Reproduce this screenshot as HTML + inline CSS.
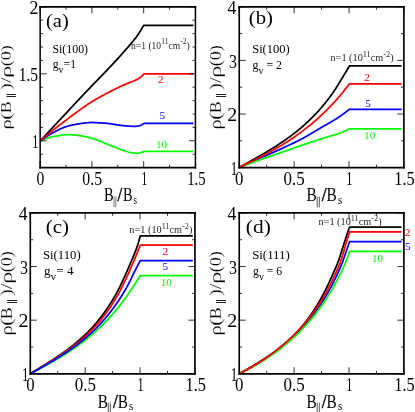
<!DOCTYPE html>
<html><head><meta charset="utf-8"><title>chart</title>
<style>html,body{margin:0;padding:0;background:#fff;}body{width:415px;height:412px;overflow:hidden;font-family:"Liberation Serif",serif;}</style>
</head><body>
<svg width="415" height="412" viewBox="0 0 415 412" font-family='"Liberation Serif", serif' style="display:block;will-change:transform">
<rect width="415" height="412" fill="#ffffff"/>
<g fill="none" stroke-width="1.75" stroke-linejoin="round">
<polyline stroke="#00ff00" points="40.50,140.67 41.55,140.26 42.59,139.86 43.64,139.47 44.68,139.09 45.73,138.73 46.77,138.38 47.82,138.05 48.86,137.73 49.91,137.44 50.96,137.16 52.00,136.91 53.05,136.68 54.09,136.47 55.14,136.29 56.18,136.11 57.23,135.93 58.27,135.75 59.32,135.58 60.36,135.41 61.41,135.26 62.46,135.12 63.50,134.99 64.55,134.88 65.59,134.78 66.64,134.71 67.68,134.66 68.73,134.64 69.77,134.64 70.82,134.68 71.87,134.73 72.91,134.81 73.96,134.91 75.00,135.03 76.05,135.16 77.09,135.30 78.14,135.45 79.18,135.60 80.23,135.76 81.27,135.92 82.32,136.08 83.37,136.26 84.41,136.46 85.46,136.68 86.50,136.92 87.55,137.17 88.59,137.44 89.64,137.72 90.68,138.02 91.73,138.32 92.78,138.63 93.82,138.94 94.87,139.26 95.91,139.59 96.96,139.95 98.00,140.33 99.05,140.73 100.09,141.15 101.14,141.58 102.18,142.01 103.23,142.46 104.28,142.91 105.32,143.36 106.37,143.81 107.41,144.25 108.46,144.68 109.50,145.09 110.55,145.50 111.59,145.92 112.64,146.34 113.69,146.76 114.73,147.18 115.78,147.60 116.82,148.02 117.87,148.43 118.91,148.83 119.96,149.23 121.00,149.61 122.05,149.98 123.09,150.34 124.14,150.67 125.19,151.01 126.23,151.36 127.28,151.69 128.32,152.01 129.37,152.29 130.41,152.53 131.46,152.70 132.50,152.85 133.55,153.00 134.60,153.12 135.64,153.21 136.69,153.26 137.73,153.25 138.78,153.11 139.82,152.88 140.87,152.60 141.91,152.30 142.96,151.93 144.00,151.49 193.45,151.49"/>
<polyline stroke="#0000ff" points="40.50,140.67 41.55,139.92 42.59,139.19 43.64,138.47 44.68,137.76 45.73,137.07 46.77,136.39 47.82,135.74 48.86,135.11 49.91,134.49 50.96,133.90 52.00,133.32 53.05,132.74 54.09,132.16 55.14,131.59 56.18,131.02 57.23,130.47 58.27,129.93 59.32,129.41 60.36,128.91 61.41,128.44 62.46,127.99 63.50,127.57 64.55,127.19 65.59,126.84 66.64,126.53 67.68,126.24 68.73,125.96 69.77,125.68 70.82,125.43 71.87,125.18 72.91,124.94 73.96,124.72 75.00,124.50 76.05,124.30 77.09,124.11 78.14,123.94 79.18,123.77 80.23,123.62 81.27,123.48 82.32,123.35 83.37,123.23 84.41,123.10 85.46,122.97 86.50,122.85 87.55,122.75 88.59,122.65 89.64,122.58 90.68,122.52 91.73,122.49 92.78,122.49 93.82,122.51 94.87,122.56 95.91,122.62 96.96,122.69 98.00,122.76 99.05,122.83 100.09,122.89 101.14,122.95 102.18,123.01 103.23,123.06 104.28,123.12 105.32,123.19 106.37,123.27 107.41,123.36 108.46,123.48 109.50,123.62 110.55,123.77 111.59,123.93 112.64,124.10 113.69,124.28 114.73,124.44 115.78,124.61 116.82,124.76 117.87,124.91 118.91,125.07 119.96,125.23 121.00,125.39 122.05,125.53 123.09,125.65 124.14,125.75 125.19,125.84 126.23,125.93 127.28,126.01 128.32,126.09 129.37,126.16 130.41,126.22 131.46,126.27 132.50,126.31 133.55,126.33 134.60,126.33 135.64,126.29 136.69,126.18 137.73,126.04 138.78,125.88 139.82,125.61 140.87,125.20 141.91,124.67 142.96,124.05 144.00,123.36 193.45,123.36"/>
<polyline stroke="#000000" points="40.50,140.67 41.54,139.54 42.58,138.42 43.63,137.30 44.67,136.18 45.71,135.05 46.75,133.93 47.80,132.81 48.84,131.69 49.88,130.57 50.92,129.45 51.96,128.33 53.01,127.21 54.05,126.09 55.09,124.97 56.13,123.85 57.18,122.73 58.22,121.61 59.26,120.49 60.30,119.37 61.35,118.26 62.39,117.14 63.43,116.02 64.47,114.90 65.51,113.79 66.56,112.67 67.60,111.55 68.64,110.44 69.68,109.32 70.73,108.21 71.77,107.09 72.81,105.98 73.85,104.86 74.89,103.75 75.94,102.63 76.98,101.52 78.02,100.41 79.06,99.29 80.11,98.18 81.15,97.07 82.19,95.96 83.23,94.85 84.28,93.75 85.32,92.65 86.36,91.55 87.40,90.46 88.44,89.37 89.49,88.29 90.53,87.21 91.57,86.13 92.61,85.05 93.66,83.97 94.70,82.89 95.74,81.82 96.78,80.75 97.82,79.67 98.87,78.60 99.91,77.52 100.95,76.45 101.99,75.37 103.04,74.29 104.08,73.21 105.12,72.13 106.16,71.04 107.21,69.95 108.25,68.86 109.29,67.76 110.33,66.67 111.37,65.56 112.42,64.45 113.46,63.34 114.50,62.22 115.54,61.09 116.59,59.96 117.63,58.83 118.67,57.68 119.71,56.53 120.75,55.37 121.80,54.20 122.84,53.03 123.88,51.85 124.92,50.65 125.97,49.45 127.01,48.25 128.05,47.06 129.09,45.86 130.14,44.66 131.18,43.44 132.22,42.20 133.26,40.93 134.30,39.63 135.35,38.30 136.39,36.92 137.43,35.50 138.47,34.02 139.52,32.38 140.56,30.65 141.60,28.91 142.64,27.14 143.68,25.34 193.45,25.34"/>
<polyline stroke="#ff0000" points="40.50,140.67 41.55,139.76 42.59,138.86 43.64,137.96 44.68,137.07 45.73,136.19 46.77,135.31 47.82,134.44 48.86,133.57 49.91,132.71 50.96,131.86 52.00,131.02 53.05,130.18 54.09,129.34 55.14,128.51 56.18,127.69 57.23,126.87 58.27,126.05 59.32,125.24 60.36,124.43 61.41,123.63 62.46,122.83 63.50,122.04 64.55,121.25 65.59,120.46 66.64,119.68 67.68,118.90 68.73,118.12 69.77,117.34 70.82,116.56 71.87,115.78 72.91,114.99 73.96,114.22 75.00,113.44 76.05,112.67 77.09,111.90 78.14,111.13 79.18,110.37 80.23,109.62 81.27,108.87 82.32,108.12 83.37,107.39 84.41,106.66 85.46,105.94 86.50,105.23 87.55,104.53 88.59,103.84 89.64,103.17 90.68,102.50 91.73,101.84 92.78,101.20 93.82,100.57 94.87,99.94 95.91,99.33 96.96,98.72 98.00,98.11 99.05,97.52 100.09,96.93 101.14,96.35 102.18,95.78 103.23,95.21 104.28,94.65 105.32,94.09 106.37,93.54 107.41,92.99 108.46,92.45 109.50,91.91 110.55,91.38 111.59,90.85 112.64,90.32 113.69,89.80 114.73,89.28 115.78,88.76 116.82,88.25 117.87,87.75 118.91,87.25 119.96,86.76 121.00,86.27 122.05,85.79 123.09,85.32 124.14,84.85 125.19,84.39 126.23,83.94 127.28,83.49 128.32,83.08 129.37,82.67 130.41,82.28 131.46,81.88 132.50,81.48 133.55,81.06 134.60,80.61 135.64,80.13 136.69,79.63 137.73,79.10 138.78,78.50 139.82,77.81 140.87,76.99 141.91,76.04 142.96,74.98 144.00,73.83 193.45,73.83"/>
</g>
<path d="M40.15 167.6v-6.5M40.15 6.8v6.5M91.92 167.6v-6.5M91.92 6.8v6.5M143.68 167.6v-6.5M143.68 6.8v6.5M195.45 167.6v-6.5M195.45 6.8v6.5M66.03 167.6v-2.9M66.03 6.8v2.9M117.80 167.6v-2.9M117.80 6.8v2.9M169.57 167.6v-2.9M169.57 6.8v2.9M40.15 140.80h6.5M195.45 140.80h-6.5M40.15 73.80h6.5M195.45 73.80h-6.5M40.15 6.80h6.5M195.45 6.80h-6.5M40.15 154.20h2.9M195.45 154.20h-2.9M40.15 127.40h2.9M195.45 127.40h-2.9M40.15 114.00h2.9M195.45 114.00h-2.9M40.15 100.60h2.9M195.45 100.60h-2.9M40.15 87.20h2.9M195.45 87.20h-2.9M40.15 60.40h2.9M195.45 60.40h-2.9M40.15 47.00h2.9M195.45 47.00h-2.9M40.15 33.60h2.9M195.45 33.60h-2.9M40.15 20.20h2.9M195.45 20.20h-2.9" stroke="#000" stroke-width="0.8" fill="none"/>
<path d="M39.40 6.8H196.20M39.40 167.6H196.20" stroke="#000" stroke-width="1.8" fill="none"/>
<path d="M40.15 5.90V168.50M195.45 5.90V168.50" stroke="#000" stroke-width="1.5" fill="none"/>
<text transform="matrix(0.1567 0 0 0.1924 36.58 185.15)" font-size="100" fill="#000000">0</text>
<text transform="matrix(0.1582 0 0 0.1923 82.28 185.15)" font-size="100" fill="#000000">0.5</text>
<text transform="matrix(0.1136 0 0 0.1938 141.48 185.15)" font-size="100" fill="#000000">1</text>
<text transform="matrix(0.1482 0 0 0.1938 187.13 185.14)" font-size="100" fill="#000000">1.5</text>
<text transform="matrix(0.1227 0 0 0.1954 32.25 147.97)" font-size="100" fill="#000000">1</text>
<text transform="matrix(0.1550 0 0 0.1953 18.72 81.13)" font-size="100" fill="#000000">1.5</text>
<text transform="matrix(0.1783 0 0 0.1946 29.41 14.30)" font-size="100" fill="#000000">2</text>
<text transform="matrix(0.1441 0 0 0.1910 104.09 201.45)" font-size="100" fill="#000000">B</text>
<text transform="matrix(0.1694 0 0 0.1910 117.50 201.45)" font-size="100" fill="#000000" stroke="#000000" stroke-width="2.5">/</text>
<text transform="matrix(0.1441 0 0 0.1910 122.89 201.45)" font-size="100" fill="#000000">B</text>
<text transform="matrix(0.0900 0 0 0.1203 133.43 204.20)" font-size="100" fill="#000000">s</text>
<path d="M114.00 196.55V207.35M115.80 196.55V207.35" stroke="#999999" stroke-width="1.3" fill="none"/>
<text transform="matrix(0 -0.2057 0.1509 0 11.20 129.44)" font-size="100" fill="#000000" stroke="#fff" stroke-width="1.2">ρ</text>
<text transform="matrix(0 -0.2291 0.1509 0 11.20 120.00)" font-size="100" fill="#000000" stroke="#fff" stroke-width="1.2">(</text>
<text transform="matrix(0 -0.1780 0.1509 0 11.20 113.21)" font-size="100" fill="#000000" stroke="#fff" stroke-width="1.2">B</text>
<text transform="matrix(0 -0.2061 0.1509 0 11.20 89.97)" font-size="100" fill="#000000" stroke="#fff" stroke-width="1.2">)/</text>
<text transform="matrix(0 -0.2514 0.1509 0 11.20 78.03)" font-size="100" fill="#000000" stroke="#fff" stroke-width="1.2">ρ</text>
<text transform="matrix(0 -0.1817 0.1509 0 11.20 66.29)" font-size="100" fill="#000000" stroke="#fff" stroke-width="1.2">(0)</text>
<path d="M6.52 94.50H15.88M6.52 96.50H15.88" stroke="#1c1c1c" stroke-width="1.0" fill="none"/>
<g fill="none" stroke-width="1.75" stroke-linejoin="round">
<polyline stroke="#000000" points="239.30,167.40 240.88,166.53 242.45,165.65 244.03,164.78 245.60,163.90 247.18,163.02 248.76,162.15 250.33,161.26 251.91,160.38 253.48,159.49 255.06,158.60 256.64,157.71 258.21,156.81 259.79,155.90 261.37,154.99 262.94,154.07 264.52,153.15 266.09,152.22 267.67,151.27 269.25,150.32 270.82,149.36 272.40,148.39 273.97,147.41 275.55,146.41 277.13,145.41 278.70,144.38 280.28,143.35 281.85,142.29 283.43,141.22 285.01,140.14 286.58,139.03 288.16,137.90 289.74,136.76 291.31,135.59 292.89,134.40 294.46,133.18 296.04,131.94 297.62,130.68 299.19,129.39 300.77,128.07 302.34,126.72 303.92,125.33 305.50,123.92 307.07,122.47 308.65,120.99 310.22,119.48 311.80,117.92 313.38,116.33 314.95,114.70 316.53,113.02 318.11,111.31 319.68,109.54 321.26,107.74 322.83,105.88 324.41,103.98 325.99,102.03 327.56,100.02 329.14,97.96 330.71,95.87 332.29,93.68 332.73,93.04 333.17,92.40 333.61,91.75 334.05,91.09 334.49,90.42 334.92,89.74 335.36,89.07 335.80,88.38 336.24,87.69 336.68,87.00 337.12,86.30 337.56,85.60 338.00,84.89 338.44,84.19 338.88,83.48 339.31,82.77 339.75,82.05 340.19,81.34 340.63,80.63 341.07,79.91 341.51,79.20 341.95,78.49 342.39,77.77 342.83,77.05 343.27,76.33 343.70,75.61 344.14,74.88 344.58,74.15 345.02,73.42 345.46,72.69 345.90,71.95 346.34,71.21 346.78,70.47 347.22,69.73 347.66,68.98 348.09,68.23 348.53,67.48 348.97,66.73 349.41,65.97 401.54,65.97"/>
<polyline stroke="#0000ff" points="239.30,167.40 240.41,166.91 241.52,166.42 242.64,165.92 243.75,165.43 244.86,164.94 245.97,164.45 247.09,163.96 248.20,163.46 249.31,162.97 250.42,162.48 251.53,161.99 252.65,161.49 253.76,161.00 254.87,160.51 255.98,160.02 257.10,159.52 258.21,159.03 259.32,158.54 260.43,158.04 261.54,157.55 262.66,157.06 263.77,156.57 264.88,156.08 265.99,155.59 267.11,155.10 268.22,154.61 269.33,154.12 270.44,153.63 271.55,153.14 272.67,152.65 273.78,152.15 274.89,151.65 276.00,151.15 277.12,150.64 278.23,150.13 279.34,149.62 280.45,149.11 281.56,148.60 282.68,148.09 283.79,147.58 284.90,147.07 286.01,146.56 287.13,146.04 288.24,145.52 289.35,145.00 290.46,144.48 291.57,143.95 292.69,143.41 293.80,142.88 294.91,142.34 296.02,141.79 297.14,141.24 298.25,140.68 299.36,140.11 300.47,139.54 301.59,138.96 302.70,138.37 303.81,137.77 304.92,137.16 306.03,136.53 307.15,135.90 308.26,135.26 309.37,134.61 310.48,133.95 311.60,133.29 312.71,132.63 313.82,131.96 314.93,131.29 316.04,130.63 317.16,129.96 318.27,129.29 319.38,128.63 320.49,127.97 321.61,127.31 322.72,126.67 323.83,126.03 324.94,125.40 326.05,124.77 327.17,124.14 328.28,123.52 329.39,122.89 330.50,122.25 331.62,121.61 332.73,120.95 333.84,120.29 334.95,119.60 336.06,118.90 337.18,118.18 338.29,117.44 339.40,116.69 340.51,115.92 341.63,115.14 342.74,114.34 343.85,113.53 344.96,112.70 346.07,111.87 347.19,111.02 348.30,110.15 349.41,109.28 401.54,109.28"/>
<polyline stroke="#00ff00" points="239.30,167.40 240.41,166.98 241.52,166.56 242.64,166.15 243.75,165.74 244.86,165.32 245.97,164.91 247.09,164.50 248.20,164.09 249.31,163.68 250.42,163.28 251.53,162.87 252.65,162.47 253.76,162.06 254.87,161.66 255.98,161.26 257.10,160.86 258.21,160.46 259.32,160.07 260.43,159.67 261.54,159.27 262.66,158.88 263.77,158.49 264.88,158.10 265.99,157.71 267.11,157.33 268.22,156.95 269.33,156.57 270.44,156.18 271.55,155.80 272.67,155.42 273.78,155.04 274.89,154.66 276.00,154.27 277.12,153.89 278.23,153.50 279.34,153.11 280.45,152.72 281.56,152.32 282.68,151.93 283.79,151.54 284.90,151.14 286.01,150.75 287.13,150.35 288.24,149.96 289.35,149.56 290.46,149.17 291.57,148.78 292.69,148.38 293.80,147.99 294.91,147.60 296.02,147.21 297.14,146.83 298.25,146.44 299.36,146.06 300.47,145.68 301.59,145.30 302.70,144.92 303.81,144.55 304.92,144.17 306.03,143.80 307.15,143.43 308.26,143.06 309.37,142.69 310.48,142.32 311.60,141.95 312.71,141.58 313.82,141.22 314.93,140.86 316.04,140.49 317.16,140.13 318.27,139.77 319.38,139.42 320.49,139.06 321.61,138.71 322.72,138.36 323.83,138.01 324.94,137.66 326.05,137.32 327.17,136.99 328.28,136.67 329.39,136.36 330.50,136.05 331.62,135.74 332.73,135.42 333.84,135.10 334.95,134.78 336.06,134.44 337.18,134.08 338.29,133.71 339.40,133.32 340.51,132.90 341.63,132.46 342.74,131.99 343.85,131.50 344.96,131.00 346.07,130.48 347.19,129.94 348.30,129.39 349.41,128.82 401.54,128.82"/>
<polyline stroke="#ff0000" points="239.30,167.40 240.89,166.63 242.49,165.87 244.08,165.10 245.68,164.32 247.27,163.55 248.87,162.77 250.46,161.99 252.06,161.20 253.65,160.41 255.25,159.61 256.84,158.80 258.44,157.99 260.03,157.18 261.63,156.35 263.22,155.52 264.81,154.68 266.41,153.83 268.00,152.97 269.60,152.10 271.19,151.22 272.79,150.33 274.38,149.42 275.98,148.51 277.57,147.58 279.17,146.64 280.76,145.69 282.36,144.72 283.95,143.74 285.54,142.74 287.14,141.73 288.73,140.70 290.33,139.65 291.92,138.59 293.52,137.51 295.11,136.41 296.71,135.29 298.30,134.16 299.90,133.00 301.49,131.83 303.09,130.63 304.68,129.41 306.28,128.17 307.87,126.91 309.46,125.62 311.06,124.31 312.65,122.98 314.25,121.62 315.84,120.24 317.44,118.83 319.03,117.40 320.63,115.94 322.22,114.45 323.82,112.94 325.41,111.39 327.01,109.82 328.60,108.21 330.19,106.58 331.79,104.92 333.38,103.22 333.79,102.77 334.21,102.32 334.62,101.87 335.03,101.41 335.44,100.95 335.85,100.49 336.26,100.03 336.67,99.56 337.08,99.09 337.49,98.61 337.90,98.13 338.32,97.65 338.73,97.17 339.14,96.68 339.55,96.19 339.96,95.70 340.37,95.21 340.78,94.71 341.19,94.21 341.60,93.72 342.01,93.21 342.42,92.71 342.84,92.21 343.25,91.70 343.66,91.19 344.07,90.68 344.48,90.16 344.89,89.64 345.30,89.12 345.71,88.60 346.12,88.08 346.53,87.55 346.95,87.02 347.36,86.49 347.77,85.95 348.18,85.41 348.59,84.87 349.00,84.33 349.41,83.78 401.54,83.78"/>
</g>
<path d="M239.23 167.6v-6.5M239.23 6.8v6.5M294.11 167.6v-6.5M294.11 6.8v6.5M349.00 167.6v-6.5M349.00 6.8v6.5M403.88 167.6v-6.5M403.88 6.8v6.5M266.67 167.6v-2.9M266.67 6.8v2.9M321.56 167.6v-2.9M321.56 6.8v2.9M376.44 167.6v-2.9M376.44 6.8v2.9M239.23 167.60h6.5M403.88 167.60h-6.5M239.23 114.00h6.5M403.88 114.00h-6.5M239.23 60.40h6.5M403.88 60.40h-6.5M239.23 6.80h6.5M403.88 6.80h-6.5M239.23 140.80h2.9M403.88 140.80h-2.9M239.23 87.20h2.9M403.88 87.20h-2.9M239.23 33.60h2.9M403.88 33.60h-2.9" stroke="#000" stroke-width="0.8" fill="none"/>
<path d="M238.41 6.8H404.70M238.41 167.6H404.70" stroke="#000" stroke-width="1.8" fill="none"/>
<path d="M239.23 5.90V168.50M403.88 5.90V168.50" stroke="#000" stroke-width="1.65" fill="none"/>
<text transform="matrix(0.1681 0 0 0.1924 235.10 185.15)" font-size="100" fill="#000000">0</text>
<text transform="matrix(0.1699 0 0 0.1923 283.49 185.15)" font-size="100" fill="#000000">0.5</text>
<text transform="matrix(0.1241 0 0 0.1938 346.28 185.15)" font-size="100" fill="#000000">1</text>
<text transform="matrix(0.1636 0 0 0.1938 394.26 185.14)" font-size="100" fill="#000000">1.5</text>
<text transform="matrix(0.1311 0 0 0.1954 230.68 174.70)" font-size="100" fill="#000000">1</text>
<text transform="matrix(0.1995 0 0 0.1946 227.25 121.23)" font-size="100" fill="#000000">2</text>
<text transform="matrix(0.1601 0 0 0.1946 228.92 67.76)" font-size="100" fill="#000000">3</text>
<text transform="matrix(0.1758 0 0 0.1957 227.60 14.30)" font-size="100" fill="#000000">4</text>
<text transform="matrix(0.1525 0 0 0.1910 306.46 201.45)" font-size="100" fill="#000000">B</text>
<text transform="matrix(0.1730 0 0 0.1910 321.80 201.45)" font-size="100" fill="#000000" stroke="#000000" stroke-width="2.5">/</text>
<text transform="matrix(0.1525 0 0 0.1910 326.51 201.45)" font-size="100" fill="#000000">B</text>
<text transform="matrix(0.1092 0 0 0.1203 337.90 204.20)" font-size="100" fill="#000000">s</text>
<path d="M317.20 196.55V207.35M319.30 196.55V207.35" stroke="#444444" stroke-width="0.9" fill="none"/>
<text transform="matrix(0 -0.2057 0.1614 0 221.00 129.44)" font-size="100" fill="#000000" stroke="#fff" stroke-width="1.2">ρ</text>
<text transform="matrix(0 -0.2291 0.1614 0 221.00 120.00)" font-size="100" fill="#000000" stroke="#fff" stroke-width="1.2">(</text>
<text transform="matrix(0 -0.1780 0.1614 0 221.00 113.21)" font-size="100" fill="#000000" stroke="#fff" stroke-width="1.2">B</text>
<text transform="matrix(0 -0.2061 0.1614 0 221.00 89.97)" font-size="100" fill="#000000" stroke="#fff" stroke-width="1.2">)/</text>
<text transform="matrix(0 -0.2514 0.1614 0 221.00 78.03)" font-size="100" fill="#000000" stroke="#fff" stroke-width="1.2">ρ</text>
<text transform="matrix(0 -0.1817 0.1614 0 221.00 66.29)" font-size="100" fill="#000000" stroke="#fff" stroke-width="1.2">(0)</text>
<path d="M216.00 94.50H226.00M216.00 96.50H226.00" stroke="#1c1c1c" stroke-width="1.0" fill="none"/>
<g fill="none" stroke-width="1.75" stroke-linejoin="round">
<polyline stroke="#00ff00" points="30.50,373.55 32.10,372.73 33.69,371.91 35.29,371.08 36.88,370.25 38.48,369.41 40.07,368.57 41.67,367.72 43.26,366.87 44.86,366.00 46.45,365.13 48.05,364.26 49.64,363.37 51.24,362.48 52.83,361.57 54.43,360.66 56.02,359.73 57.62,358.80 59.21,357.85 60.81,356.89 62.40,355.91 64.00,354.92 65.59,353.92 67.19,352.90 68.78,351.87 70.38,350.82 71.97,349.75 73.57,348.67 75.16,347.56 76.76,346.44 78.35,345.30 79.95,344.13 81.54,342.95 83.14,341.74 84.73,340.51 86.33,339.25 87.92,337.97 89.52,336.66 91.11,335.32 92.71,333.96 94.31,332.57 95.90,331.15 97.50,329.70 99.09,328.21 100.69,326.70 102.28,325.15 103.88,323.56 105.47,321.94 107.07,320.29 108.66,318.59 110.26,316.86 111.85,315.09 113.45,313.28 115.04,311.42 116.64,309.52 118.23,307.58 119.83,305.59 121.42,303.56 123.02,301.49 124.61,299.35 125.01,298.79 125.42,298.23 125.82,297.66 126.22,297.09 126.62,296.51 127.02,295.93 127.42,295.35 127.82,294.76 128.22,294.17 128.63,293.57 129.03,292.97 129.43,292.37 129.83,291.77 130.23,291.17 130.63,290.56 131.03,289.95 131.43,289.34 131.84,288.73 132.24,288.12 132.64,287.50 133.04,286.89 133.44,286.28 133.84,285.66 134.24,285.05 134.64,284.44 135.05,283.82 135.45,283.20 135.85,282.58 136.25,281.95 136.65,281.33 137.05,280.70 137.45,280.07 137.85,279.44 138.26,278.80 138.66,278.17 139.06,277.53 139.46,276.89 139.86,276.25 140.26,275.61 192.79,275.61"/>
<polyline stroke="#000000" points="30.50,373.55 31.97,372.67 33.43,371.79 34.90,370.91 36.36,370.02 37.83,369.13 39.29,368.24 40.76,367.34 42.22,366.44 43.69,365.53 45.15,364.62 46.62,363.71 48.08,362.78 49.55,361.85 51.01,360.92 52.48,359.97 53.94,359.02 55.41,358.05 56.88,357.08 58.34,356.09 59.81,355.10 61.27,354.09 62.74,353.06 64.20,352.02 65.67,350.96 67.13,349.89 68.60,348.80 70.06,347.69 71.53,346.55 72.99,345.40 74.46,344.22 75.92,343.02 77.39,341.79 78.85,340.53 80.32,339.25 81.79,337.93 83.25,336.58 84.72,335.20 86.18,333.78 87.65,332.33 89.11,330.84 90.58,329.30 92.04,327.73 93.51,326.11 94.97,324.44 96.44,322.73 97.90,320.96 99.37,319.14 100.83,317.27 102.30,315.35 103.76,313.36 105.23,311.31 106.70,309.20 108.16,307.03 109.63,304.78 111.09,302.47 112.56,300.08 114.02,297.62 115.49,295.11 116.95,292.46 117.55,291.31 118.15,290.15 118.75,288.97 119.34,287.78 119.94,286.57 120.54,285.34 121.14,284.10 121.73,282.85 122.33,281.58 122.93,280.29 123.53,279.00 124.12,277.69 124.72,276.37 125.32,275.04 125.92,273.71 126.52,272.36 127.11,271.00 127.71,269.63 128.31,268.26 128.91,266.87 129.50,265.49 130.10,264.09 130.70,262.71 131.30,261.32 131.89,259.93 132.49,258.53 133.09,257.11 133.69,255.67 134.28,254.20 134.88,252.69 135.48,251.14 136.08,249.54 136.68,247.88 137.27,246.17 137.87,244.38 138.47,242.44 139.07,240.36 139.66,238.19 140.26,235.98 192.79,235.98"/>
<polyline stroke="#ff0000" points="30.50,373.55 32.00,372.66 33.50,371.77 35.01,370.88 36.51,369.99 38.01,369.09 39.51,368.20 41.02,367.30 42.52,366.40 44.02,365.50 45.52,364.60 47.03,363.69 48.53,362.77 50.03,361.85 51.53,360.93 53.04,359.99 54.54,359.05 56.04,358.10 57.54,357.14 59.05,356.17 60.55,355.19 62.05,354.20 63.55,353.19 65.05,352.17 66.56,351.13 68.06,350.07 69.56,349.00 71.06,347.90 72.57,346.79 74.07,345.65 75.57,344.49 77.07,343.31 78.58,342.09 80.08,340.85 81.58,339.58 83.08,338.28 84.59,336.95 86.09,335.58 87.59,334.17 89.09,332.73 90.60,331.24 92.10,329.72 93.60,328.15 95.10,326.53 96.61,324.87 98.11,323.15 99.61,321.39 101.11,319.57 102.61,317.69 104.12,315.76 105.62,313.76 107.12,311.71 108.62,309.58 110.13,307.39 111.63,305.13 113.13,302.80 114.63,300.39 116.14,297.90 117.64,295.37 119.14,292.69 119.68,291.66 120.22,290.63 120.77,289.57 121.31,288.51 121.85,287.43 122.39,286.33 122.93,285.23 123.47,284.11 124.01,282.98 124.56,281.84 125.10,280.69 125.64,279.53 126.18,278.36 126.72,277.18 127.26,275.99 127.81,274.79 128.35,273.59 128.89,272.38 129.43,271.16 129.97,269.94 130.51,268.71 131.06,267.48 131.60,266.25 132.14,265.01 132.68,263.76 133.22,262.50 133.76,261.22 134.30,259.93 134.85,258.63 135.39,257.32 135.93,256.00 136.47,254.67 137.01,253.32 137.55,251.97 138.10,250.61 138.64,249.24 139.18,247.86 139.72,246.48 140.26,245.08 192.79,245.08"/>
<polyline stroke="#0000ff" points="30.50,373.55 32.07,372.68 33.63,371.81 35.20,370.94 36.77,370.07 38.34,369.19 39.90,368.31 41.47,367.42 43.04,366.53 44.61,365.64 46.17,364.74 47.74,363.83 49.31,362.92 50.88,362.00 52.44,361.07 54.01,360.13 55.58,359.18 57.14,358.22 58.71,357.26 60.28,356.28 61.85,355.28 63.41,354.28 64.98,353.25 66.55,352.22 68.12,351.16 69.68,350.09 71.25,349.00 72.82,347.89 74.38,346.76 75.95,345.61 77.52,344.44 79.09,343.24 80.65,342.01 82.22,340.76 83.79,339.48 85.36,338.17 86.92,336.83 88.49,335.45 90.06,334.04 91.63,332.60 93.19,331.12 94.76,329.60 96.33,328.04 97.89,326.44 99.46,324.80 101.03,323.11 102.60,321.38 104.16,319.59 105.73,317.76 107.30,315.87 108.87,313.93 110.43,311.94 112.00,309.89 113.57,307.77 115.13,305.60 116.70,303.36 118.27,301.06 119.84,298.69 121.40,296.26 122.97,293.74 123.41,293.00 123.86,292.26 124.30,291.51 124.74,290.75 125.19,289.99 125.63,289.22 126.07,288.44 126.52,287.65 126.96,286.85 127.40,286.03 127.85,285.21 128.29,284.37 128.73,283.52 129.18,282.64 129.62,281.75 130.06,280.85 130.51,279.94 130.95,279.02 131.39,278.10 131.84,277.17 132.28,276.25 132.72,275.33 133.17,274.42 133.61,273.51 134.05,272.62 134.50,271.74 134.94,270.87 135.38,269.99 135.83,269.13 136.27,268.26 136.71,267.40 137.16,266.54 137.60,265.68 138.04,264.83 138.49,263.98 138.93,263.13 139.37,262.29 139.82,261.45 140.26,260.61 192.79,260.61"/>
</g>
<path d="M30.30 373.78v-6.5M30.30 212.92v6.5M85.18 373.78v-6.5M85.18 212.92v6.5M140.07 373.78v-6.5M140.07 212.92v6.5M194.95 373.78v-6.5M194.95 212.92v6.5M57.74 373.78v-2.9M57.74 212.92v2.9M112.62 373.78v-2.9M112.62 212.92v2.9M167.51 373.78v-2.9M167.51 212.92v2.9M30.3 373.78h6.5M194.95 373.78h-6.5M30.3 320.16h6.5M194.95 320.16h-6.5M30.3 266.54h6.5M194.95 266.54h-6.5M30.3 212.92h6.5M194.95 212.92h-6.5M30.3 346.97h2.9M194.95 346.97h-2.9M30.3 293.35h2.9M194.95 293.35h-2.9M30.3 239.73h2.9M194.95 239.73h-2.9" stroke="#000" stroke-width="0.8" fill="none"/>
<path d="M29.48 212.92H195.77M29.48 373.78H195.77" stroke="#000" stroke-width="1.8" fill="none"/>
<path d="M30.3 212.02V374.68M194.95 212.02V374.68" stroke="#000" stroke-width="1.65" fill="none"/>
<text transform="matrix(0.1681 0 0 0.1924 26.30 391.30)" font-size="100" fill="#000000">0</text>
<text transform="matrix(0.1699 0 0 0.1923 74.70 391.30)" font-size="100" fill="#000000">0.5</text>
<text transform="matrix(0.1241 0 0 0.1938 137.52 391.30)" font-size="100" fill="#000000">1</text>
<text transform="matrix(0.1636 0 0 0.1938 185.51 391.29)" font-size="100" fill="#000000">1.5</text>
<text transform="matrix(0.1311 0 0 0.1954 21.88 380.85)" font-size="100" fill="#000000">1</text>
<text transform="matrix(0.1995 0 0 0.1946 18.45 327.30)" font-size="100" fill="#000000">2</text>
<text transform="matrix(0.1601 0 0 0.1946 20.12 273.75)" font-size="100" fill="#000000">3</text>
<text transform="matrix(0.1758 0 0 0.1957 18.80 220.20)" font-size="100" fill="#000000">4</text>
<text transform="matrix(0.1525 0 0 0.1910 97.66 407.60)" font-size="100" fill="#000000">B</text>
<text transform="matrix(0.1730 0 0 0.1910 113.00 407.60)" font-size="100" fill="#000000" stroke="#000000" stroke-width="2.5">/</text>
<text transform="matrix(0.1525 0 0 0.1910 117.71 407.60)" font-size="100" fill="#000000">B</text>
<text transform="matrix(0.1092 0 0 0.1203 129.10 410.35)" font-size="100" fill="#000000">s</text>
<path d="M108.25 402.70V413.50M110.35 402.70V413.50" stroke="#444444" stroke-width="0.9" fill="none"/>
<text transform="matrix(0 -0.2057 0.1614 0 12.20 335.46)" font-size="100" fill="#000000" stroke="#fff" stroke-width="1.2">ρ</text>
<text transform="matrix(0 -0.2291 0.1614 0 12.20 326.03)" font-size="100" fill="#000000" stroke="#fff" stroke-width="1.2">(</text>
<text transform="matrix(0 -0.1780 0.1614 0 12.20 319.24)" font-size="100" fill="#000000" stroke="#fff" stroke-width="1.2">B</text>
<text transform="matrix(0 -0.2061 0.1614 0 12.20 295.99)" font-size="100" fill="#000000" stroke="#fff" stroke-width="1.2">)/</text>
<text transform="matrix(0 -0.2514 0.1614 0 12.20 284.06)" font-size="100" fill="#000000" stroke="#fff" stroke-width="1.2">ρ</text>
<text transform="matrix(0 -0.1817 0.1614 0 12.20 272.32)" font-size="100" fill="#000000" stroke="#fff" stroke-width="1.2">(0)</text>
<path d="M7.20 300.53H17.20M7.20 302.53H17.20" stroke="#1c1c1c" stroke-width="1.0" fill="none"/>
<g fill="none" stroke-width="1.75" stroke-linejoin="round">
<polyline stroke="#000000" points="239.30,373.55 240.89,372.69 242.49,371.82 244.08,370.94 245.68,370.05 247.27,369.15 248.87,368.24 250.46,367.32 252.06,366.40 253.65,365.46 255.25,364.51 256.84,363.55 258.44,362.57 260.03,361.58 261.63,360.58 263.22,359.56 264.81,358.53 266.41,357.48 268.00,356.41 269.60,355.32 271.19,354.21 272.79,353.07 274.38,351.92 275.98,350.74 277.57,349.53 279.17,348.29 280.76,347.03 282.36,345.73 283.95,344.40 285.54,343.03 287.14,341.62 288.73,340.18 290.33,338.69 291.92,337.16 293.52,335.59 295.11,333.96 296.71,332.29 298.30,330.56 299.90,328.77 301.49,326.93 303.09,325.03 304.68,323.06 306.28,321.02 307.87,318.91 309.46,316.73 311.06,314.48 312.65,312.14 314.25,309.73 315.84,307.22 317.44,304.63 319.03,301.94 320.63,299.16 322.22,296.28 323.82,293.29 325.41,290.19 327.01,286.99 328.60,283.66 330.19,280.22 331.79,276.64 333.38,272.96 333.80,272.00 334.21,271.06 334.63,270.12 335.04,269.18 335.46,268.24 335.87,267.29 336.29,266.32 336.71,265.33 337.12,264.32 337.54,263.27 337.95,262.20 338.37,261.07 338.78,259.91 339.20,258.70 339.61,257.46 340.03,256.18 340.44,254.89 340.86,253.58 341.27,252.26 341.69,250.93 342.10,249.60 342.52,248.29 342.93,246.98 343.35,245.69 343.76,244.39 344.18,243.08 344.59,241.77 345.01,240.46 345.42,239.16 345.84,237.88 346.25,236.62 346.67,235.39 347.08,234.16 347.50,232.95 347.91,231.75 348.33,230.57 348.74,229.39 349.16,228.24 349.58,227.09 401.54,227.09"/>
<polyline stroke="#0000ff" points="239.30,373.55 240.93,372.78 242.56,371.98 244.20,371.17 245.83,370.33 247.46,369.47 249.09,368.59 250.72,367.70 252.35,366.78 253.99,365.84 255.62,364.88 257.25,363.89 258.88,362.89 260.51,361.87 262.14,360.82 263.78,359.76 265.41,358.67 267.04,357.56 268.67,356.43 270.30,355.28 271.93,354.11 273.57,352.91 275.20,351.69 276.83,350.45 278.46,349.18 280.09,347.89 281.72,346.58 283.36,345.24 284.99,343.87 286.62,342.48 288.25,341.06 289.88,339.61 291.52,338.12 293.15,336.61 294.78,335.07 296.41,333.49 298.04,331.87 299.67,330.21 301.31,328.52 302.94,326.78 304.57,325.00 306.20,323.17 307.83,321.29 309.46,319.36 311.10,317.37 312.73,315.32 314.36,313.21 315.99,311.03 317.62,308.78 319.25,306.45 320.89,304.05 322.52,301.55 324.15,298.97 325.78,296.29 327.41,293.51 329.05,290.62 330.68,287.61 332.31,284.48 333.94,281.22 335.57,277.82 335.93,277.06 336.29,276.30 336.65,275.54 337.01,274.78 337.37,274.02 337.73,273.25 338.09,272.48 338.44,271.71 338.80,270.93 339.16,270.14 339.52,269.34 339.88,268.53 340.24,267.72 340.60,266.88 340.96,266.04 341.32,265.18 341.68,264.30 342.04,263.41 342.39,262.50 342.75,261.56 343.11,260.58 343.47,259.55 343.83,258.50 344.19,257.41 344.55,256.32 344.91,255.21 345.27,254.11 345.63,253.03 345.98,251.97 346.34,250.92 346.70,249.88 347.06,248.84 347.42,247.81 347.78,246.77 348.14,245.74 348.50,244.72 348.86,243.69 349.22,242.67 349.58,241.66 401.54,241.66"/>
<polyline stroke="#00ff00" points="239.30,373.55 240.97,372.79 242.64,372.00 244.31,371.20 245.98,370.38 247.64,369.54 249.31,368.67 250.98,367.79 252.65,366.89 254.32,365.96 255.99,365.02 257.66,364.05 259.33,363.07 260.99,362.06 262.66,361.03 264.33,359.98 266.00,358.91 267.67,357.81 269.34,356.69 271.01,355.55 272.68,354.39 274.35,353.20 276.01,351.99 277.68,350.75 279.35,349.49 281.02,348.20 282.69,346.89 284.36,345.55 286.03,344.17 287.70,342.77 289.36,341.34 291.03,339.88 292.70,338.39 294.37,336.86 296.04,335.30 297.71,333.70 299.38,332.06 301.05,330.39 302.71,328.67 304.38,326.92 306.05,325.12 307.72,323.27 309.39,321.37 311.06,319.43 312.73,317.43 314.40,315.38 316.07,313.26 317.73,311.09 319.40,308.86 321.07,306.55 322.74,304.18 324.41,301.73 326.08,299.21 327.75,296.60 329.42,293.91 331.08,291.12 332.75,288.24 334.42,285.26 336.09,282.18 337.76,278.97 338.06,278.37 338.37,277.77 338.67,277.18 338.97,276.58 339.27,275.98 339.58,275.39 339.88,274.78 340.18,274.18 340.49,273.58 340.79,272.97 341.09,272.36 341.40,271.74 341.70,271.12 342.00,270.49 342.30,269.86 342.61,269.22 342.91,268.58 343.21,267.93 343.52,267.27 343.82,266.60 344.12,265.92 344.42,265.23 344.73,264.54 345.03,263.83 345.33,263.11 345.64,262.38 345.94,261.64 346.24,260.87 346.55,260.09 346.85,259.28 347.15,258.46 347.45,257.62 347.76,256.76 348.06,255.89 348.36,255.01 348.67,254.12 348.97,253.22 349.27,252.32 349.58,251.40 401.54,251.40"/>
<polyline stroke="#ff0000" points="239.30,373.55 240.91,372.76 242.53,371.95 244.14,371.13 245.75,370.28 247.37,369.41 248.98,368.53 250.59,367.62 252.21,366.70 253.82,365.75 255.43,364.79 257.05,363.80 258.66,362.80 260.27,361.77 261.88,360.73 263.50,359.66 265.11,358.58 266.72,357.47 268.34,356.34 269.95,355.18 271.56,354.01 273.18,352.81 274.79,351.58 276.40,350.34 278.02,349.06 279.63,347.77 281.24,346.44 282.86,345.09 284.47,343.71 286.08,342.30 287.70,340.86 289.31,339.39 290.92,337.89 292.54,336.35 294.15,334.78 295.76,333.16 297.37,331.51 298.99,329.82 300.60,328.09 302.21,326.31 303.83,324.48 305.44,322.60 307.05,320.67 308.67,318.68 310.28,316.64 311.89,314.53 313.51,312.35 315.12,310.11 316.73,307.79 318.35,305.39 319.96,302.91 321.57,300.34 323.19,297.68 324.80,294.91 326.41,292.03 328.03,289.04 329.64,285.92 331.25,282.67 332.86,279.26 334.48,275.72 334.87,274.87 335.25,274.03 335.64,273.20 336.03,272.37 336.41,271.54 336.80,270.71 337.19,269.87 337.57,269.02 337.96,268.15 338.35,267.27 338.74,266.36 339.12,265.44 339.51,264.48 339.90,263.49 340.28,262.46 340.67,261.39 341.06,260.24 341.45,259.03 341.83,257.77 342.22,256.47 342.61,255.13 342.99,253.77 343.38,252.40 343.77,251.03 344.16,249.67 344.54,248.33 344.93,247.02 345.32,245.74 345.70,244.45 346.09,243.17 346.48,241.90 346.87,240.62 347.25,239.35 347.64,238.08 348.03,236.81 348.41,235.54 348.80,234.27 349.19,233.01 349.58,231.75 401.54,231.75"/>
</g>
<path d="M239.23 373.78v-6.5M239.23 212.92v6.5M294.11 373.78v-6.5M294.11 212.92v6.5M349.00 373.78v-6.5M349.00 212.92v6.5M403.88 373.78v-6.5M403.88 212.92v6.5M266.67 373.78v-2.9M266.67 212.92v2.9M321.56 373.78v-2.9M321.56 212.92v2.9M376.44 373.78v-2.9M376.44 212.92v2.9M239.23 373.78h6.5M403.88 373.78h-6.5M239.23 320.16h6.5M403.88 320.16h-6.5M239.23 266.54h6.5M403.88 266.54h-6.5M239.23 212.92h6.5M403.88 212.92h-6.5M239.23 346.97h2.9M403.88 346.97h-2.9M239.23 293.35h2.9M403.88 293.35h-2.9M239.23 239.73h2.9M403.88 239.73h-2.9" stroke="#000" stroke-width="0.8" fill="none"/>
<path d="M238.41 212.92H404.70M238.41 373.78H404.70" stroke="#000" stroke-width="1.8" fill="none"/>
<path d="M239.23 212.02V374.68M403.88 212.02V374.68" stroke="#000" stroke-width="1.65" fill="none"/>
<text transform="matrix(0.1681 0 0 0.1924 235.10 391.30)" font-size="100" fill="#000000">0</text>
<text transform="matrix(0.1699 0 0 0.1923 283.49 391.30)" font-size="100" fill="#000000">0.5</text>
<text transform="matrix(0.1241 0 0 0.1938 346.28 391.30)" font-size="100" fill="#000000">1</text>
<text transform="matrix(0.1636 0 0 0.1938 394.26 391.29)" font-size="100" fill="#000000">1.5</text>
<text transform="matrix(0.1311 0 0 0.1954 230.68 380.85)" font-size="100" fill="#000000">1</text>
<text transform="matrix(0.1995 0 0 0.1946 227.25 327.30)" font-size="100" fill="#000000">2</text>
<text transform="matrix(0.1601 0 0 0.1946 228.92 273.75)" font-size="100" fill="#000000">3</text>
<text transform="matrix(0.1758 0 0 0.1957 227.60 220.20)" font-size="100" fill="#000000">4</text>
<text transform="matrix(0.1525 0 0 0.1910 306.46 407.60)" font-size="100" fill="#000000">B</text>
<text transform="matrix(0.1730 0 0 0.1910 321.80 407.60)" font-size="100" fill="#000000" stroke="#000000" stroke-width="2.5">/</text>
<text transform="matrix(0.1525 0 0 0.1910 326.51 407.60)" font-size="100" fill="#000000">B</text>
<text transform="matrix(0.1092 0 0 0.1203 337.90 410.35)" font-size="100" fill="#000000">s</text>
<path d="M317.20 402.70V413.50M319.30 402.70V413.50" stroke="#444444" stroke-width="0.9" fill="none"/>
<text transform="matrix(0 -0.2057 0.1614 0 221.00 335.46)" font-size="100" fill="#000000" stroke="#fff" stroke-width="1.2">ρ</text>
<text transform="matrix(0 -0.2291 0.1614 0 221.00 326.03)" font-size="100" fill="#000000" stroke="#fff" stroke-width="1.2">(</text>
<text transform="matrix(0 -0.1780 0.1614 0 221.00 319.24)" font-size="100" fill="#000000" stroke="#fff" stroke-width="1.2">B</text>
<text transform="matrix(0 -0.2061 0.1614 0 221.00 295.99)" font-size="100" fill="#000000" stroke="#fff" stroke-width="1.2">)/</text>
<text transform="matrix(0 -0.2514 0.1614 0 221.00 284.06)" font-size="100" fill="#000000" stroke="#fff" stroke-width="1.2">ρ</text>
<text transform="matrix(0 -0.1817 0.1614 0 221.00 272.32)" font-size="100" fill="#000000" stroke="#fff" stroke-width="1.2">(0)</text>
<path d="M216.00 300.53H226.00M216.00 302.53H226.00" stroke="#1c1c1c" stroke-width="1.0" fill="none"/>
<text transform="matrix(0.2044 0 0 0.1986 46.01 27.18)" font-size="100" fill="#000000">(a)</text>
<text transform="matrix(0.1191 0 0 0.1200 52.40 52.50)" font-size="100" fill="#000000">Si(100)</text>
<text transform="matrix(0.1172 0 0 0.1200 52.70 68.20)" font-size="100" fill="#000000">g<tspan font-size="85" dy="38">v</tspan><tspan dy="-38">=1</tspan></text>
<text transform="matrix(0.0957 0 0 0.1060 131.08 48.80)" font-size="100" fill="#262626">n=1 (10<tspan font-size="80" dy="-42">11</tspan><tspan dy="42">cm</tspan><tspan font-size="80" dy="-42">-2</tspan><tspan dy="42">)</tspan></text>
<text transform="matrix(0.1120 0 0 0.1120 158.01 83.30)" font-size="100" fill="#ff0000">2</text>
<text transform="matrix(0.1120 0 0 0.1120 159.39 118.80)" font-size="100" fill="#0000ff">5</text>
<text transform="matrix(0.1120 0 0 0.1120 155.92 148.10)" font-size="100" fill="#00ff00">10</text>
<text transform="matrix(0.2072 0 0 0.1986 248.74 23.98)" font-size="100" fill="#000000">(b)</text>
<text transform="matrix(0.1257 0 0 0.1200 252.15 52.50)" font-size="100" fill="#000000">Si(100)</text>
<text transform="matrix(0.1183 0 0 0.1200 252.50 69.00)" font-size="100" fill="#000000">g<tspan font-size="85" dy="38">v</tspan><tspan dy="-38"> = 2</tspan></text>
<text transform="matrix(0.1028 0 0 0.1060 330.47 61.40)" font-size="100" fill="#262626">n=1 (10<tspan font-size="80" dy="-42">11</tspan><tspan dy="42">cm</tspan><tspan font-size="80" dy="-42">-2</tspan><tspan dy="42">)</tspan></text>
<text transform="matrix(0.1120 0 0 0.1120 364.36 81.40)" font-size="100" fill="#ff0000">2</text>
<text transform="matrix(0.1120 0 0 0.1120 365.19 106.50)" font-size="100" fill="#0000ff">5</text>
<text transform="matrix(0.1120 0 0 0.1120 364.12 138.60)" font-size="100" fill="#00ff00">10</text>
<text transform="matrix(0.2103 0 0 0.1942 45.78 233.07)" font-size="100" fill="#000000">(c)</text>
<text transform="matrix(0.1271 0 0 0.1200 42.99 259.00)" font-size="100" fill="#000000">Si(110)</text>
<text transform="matrix(0.1320 0 0 0.1200 43.94 275.20)" font-size="100" fill="#000000">g<tspan font-size="85" dy="38">v</tspan><tspan dy="-38">= 4</tspan></text>
<text transform="matrix(0.1026 0 0 0.1060 129.37 233.40)" font-size="100" fill="#262626">n=1 (10<tspan font-size="80" dy="-42">11</tspan><tspan dy="42">cm</tspan><tspan font-size="80" dy="-42">-2</tspan><tspan dy="42">)</tspan></text>
<text transform="matrix(0.1120 0 0 0.1120 162.61 254.50)" font-size="100" fill="#ff0000">2</text>
<text transform="matrix(0.1120 0 0 0.1120 162.44 269.70)" font-size="100" fill="#0000ff">5</text>
<text transform="matrix(0.1120 0 0 0.1120 160.72 285.60)" font-size="100" fill="#00ff00">10</text>
<text transform="matrix(0.2141 0 0 0.1942 245.86 233.07)" font-size="100" fill="#000000">(d)</text>
<text transform="matrix(0.1290 0 0 0.1200 252.13 259.00)" font-size="100" fill="#000000">Si(111)</text>
<text transform="matrix(0.1169 0 0 0.1200 253.05 275.20)" font-size="100" fill="#000000">g<tspan font-size="85" dy="38">v</tspan><tspan dy="-38"> = 6</tspan></text>
<text transform="matrix(0.1028 0 0 0.1060 318.47 225.00)" font-size="100" fill="#262626">n=1 (10<tspan font-size="80" dy="-42">11</tspan><tspan dy="42">cm</tspan><tspan font-size="80" dy="-42">-2</tspan><tspan dy="42">)</tspan></text>
<text transform="matrix(0.1120 0 0 0.1120 404.81 235.90)" font-size="100" fill="#ff0000">2</text>
<text transform="matrix(0.1120 0 0 0.1120 405.09 249.50)" font-size="100" fill="#0000ff">5</text>
<text transform="matrix(0.1120 0 0 0.1120 371.92 261.70)" font-size="100" fill="#00ff00">10</text>
</svg>
</body></html>
